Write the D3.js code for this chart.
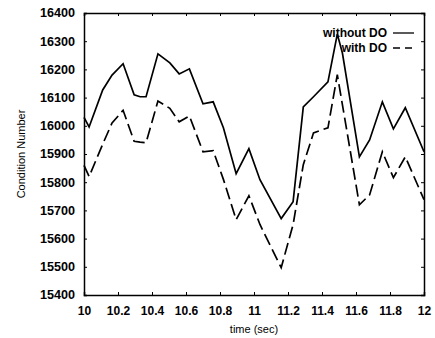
<!DOCTYPE html>
<html>
<head>
<meta charset="utf-8">
<script src="https://cdn.jsdelivr.net/npm/d3@7"></script>
<style>
  body { margin: 0; background: #fff; }
  text { font-family: "Liberation Sans", Arial, sans-serif; fill: #000; }
  .axis path, .axis line { stroke: #000; }
</style>
</head>
<body>
<div id="chart"></div>
<script>
// sample times (sec)
var times = [10.0, 10.03, 10.11, 10.165, 10.23, 10.295, 10.33, 10.365, 10.435, 10.505,
  10.56, 10.62, 10.70, 10.76, 10.82, 10.895, 10.97, 11.035, 11.16, 11.23,
  11.29, 11.35, 11.435, 11.49, 11.52, 11.62, 11.68, 11.755, 11.82, 11.89, 12.0];

var withoutDO = [16030, 15996, 16127, 16180, 16220, 16110, 16103, 16103, 16255, 16223,
  16184, 16202, 16078, 16085, 15993, 15830, 15919, 15809, 15671, 15731,
  16067, 16103, 16156, 16325, 16258, 15890, 15950, 16085, 15989, 16064, 15908];

var withDO = [15860, 15820, 15935, 16010, 16055, 15945, 15942, 15940, 16088, 16062,
  16014, 16035, 15908, 15912, 15810, 15667, 15752, 15650, 15497, 15650,
  15862, 15975, 15993, 16181, 16075, 15720, 15755, 15908, 15816, 15890, 15738];

var xTicks = [10, 10.2, 10.4, 10.6, 10.8, 11, 11.2, 11.4, 11.6, 11.8, 12];
var yTicks = [15400, 15500, 15600, 15700, 15800, 15900, 16000, 16100, 16200, 16300, 16400];

var margin = { top: 13, right: 11, bottom: 43, left: 84 },
  width = 435 - margin.left - margin.right,
  height = 338 - margin.top - margin.bottom;

var svg = d3.select("#chart").append("svg")
  .attr("width", 435)
  .attr("height", 338)
  .append("g")
  .attr("transform", "translate(" + margin.left + "," + margin.top + ")");

var x = d3.scaleLinear().domain([10, 12]).range([0, width]);
var y = d3.scaleLinear().domain([15400, 16400]).range([height, 0]);

var fmtX = function (d) { return d3.format("")(+d.toFixed(1)); };

// bottom / left axes with labels, inward ticks
svg.append("g")
  .attr("class", "axis")
  .attr("transform", "translate(0," + height + ")")
  .call(d3.axisBottom(x).tickValues(xTicks).tickSize(-3).tickPadding(11).tickFormat(fmtX))
  .call(g => g.selectAll("text").style("font-size", "12px").style("font-weight", "bold"));

svg.append("g")
  .attr("class", "axis")
  .call(d3.axisLeft(y).tickValues(yTicks).tickSize(-3).tickPadding(9).tickFormat(d3.format("d")))
  .call(g => g.selectAll("text").style("font-size", "12px").style("font-weight", "bold")
    .attr("textLength", 35).attr("lengthAdjust", "spacingAndGlyphs"));

// top / right axes, ticks only
svg.append("g")
  .attr("class", "axis")
  .call(d3.axisTop(x).tickValues(xTicks).tickSize(-3).tickFormat(""));

svg.append("g")
  .attr("class", "axis")
  .attr("transform", "translate(" + width + ",0)")
  .call(d3.axisRight(y).tickValues(yTicks).tickSize(-3).tickFormat(""));

svg.selectAll(".axis path").attr("stroke-width", 1.5);

var line = d3.line()
  .x(function (d, i) { return x(times[i]); })
  .y(function (d) { return y(d); });

svg.append("path")
  .attr("d", line(withoutDO))
  .attr("fill", "none")
  .attr("stroke", "#000")
  .attr("stroke-width", 1.7);

svg.append("path")
  .attr("d", line(withDO))
  .attr("fill", "none")
  .attr("stroke", "#000")
  .attr("stroke-width", 1.7)
  .attr("stroke-dasharray", "12,5");

// legend
var legend = svg.append("g").attr("transform", "translate(" + (width - 37) + ",0)");
[["without DO", null], ["with DO", "7,5"]].forEach(function (d, i) {
  var yy = 20 + i * 15;
  legend.append("text")
    .attr("x", 0).attr("y", yy + 4)
    .attr("text-anchor", "end")
    .style("font-size", "12px")
    .style("font-weight", "bold")
    .text(d[0]);
  legend.append("line")
    .attr("x1", 6).attr("x2", 27)
    .attr("y1", yy).attr("y2", yy)
    .attr("stroke", "#000")
    .attr("stroke-width", 1.3)
    .attr("stroke-dasharray", d[1]);
});

svg.append("text")
  .attr("x", width / 2)
  .attr("y", height + 38)
  .attr("text-anchor", "middle")
  .style("font-size", "11px")
  .text("time (sec)");

svg.append("text")
  .attr("transform", "rotate(-90)")
  .attr("x", -height / 2)
  .attr("y", -59)
  .attr("text-anchor", "middle")
  .style("font-size", "11px")
  .text("Condition Number");
</script>
</body>
</html>
